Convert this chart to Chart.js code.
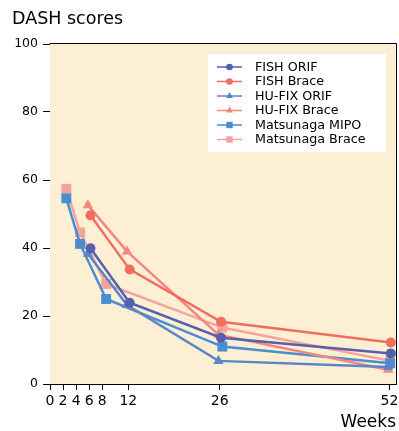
<!DOCTYPE html>
<html>
<head>
<meta charset="utf-8">
<script src="https://cdn.jsdelivr.net/npm/chart.js@4/dist/chart.umd.min.js"></script>
<style>
  html, body { margin: 0; padding: 0; background: #ffffff; overflow: hidden; }
  canvas { display: block; }
</style>
</head>
<body>
<canvas id="dashChart" width="399" height="431"></canvas>
<script>
    // weeks (slightly dodged per study, as in the original figure)
    var fishWeeks = [6.2, 12.2, 26.2, 52.2];
    var hufixWeeks = [5.8, 11.8, 25.8, 51.8];
    var matsunagaWeeks = [2.5, 4.6, 8.6, 26.4, 52.1];

    // DASH scores
    var fishOrif = [39.9, 23.9, 13.6, 9.0];
    var fishBrace = [49.6, 33.7, 18.3, 12.2];
    var hufixOrif = [38.3, 23.2, 6.8, 5.0];
    var hufixBrace = [52.6, 39.0, 14.5, 4.2];
    var matsunagaMipo = [54.6, 41.2, 25.0, 11.0, 6.1];
    var matsunagaBrace = [57.4, 44.6, 29.4, 16.6, 6.8];

    var xTicks = [0, 2, 4, 6, 8, 12, 26, 52];
    var yTicks = [0, 20, 40, 60, 80, 100];

    function pts(xs, ys) {
        return xs.map(function (x, i) { return {x: x, y: ys[i]}; });
    }

    function series(label, xs, ys, color, style, radius) {
        return {
            label: label,
            data: pts(xs, ys),
            showLine: true,
            borderColor: color,
            backgroundColor: color,
            borderWidth: 2.5,
            pointStyle: style,
            pointRadius: radius,
            pointHoverRadius: radius,
            pointBorderWidth: 0,
            pointBackgroundColor: color,
            clip: false
        };
    }

    var dashData = {
        datasets: [
            series("FISH ORIF", fishWeeks, fishOrif, "#5461b0", "circle", 5),
            series("FISH Brace", fishWeeks, fishBrace, "#f16d5d", "circle", 5),
            series("HU-FIX ORIF", hufixWeeks, hufixOrif, "#5a86c7", "triangle", 6),
            series("HU-FIX Brace", hufixWeeks, hufixBrace, "#f5877b", "triangle", 6),
            series("Matsunaga MIPO", matsunagaWeeks, matsunagaMipo, "#4a8dd1", "rect", 7),
            series("Matsunaga Brace", matsunagaWeeks, matsunagaBrace, "#f7a29a", "rect", 7)
        ]
    };

    function noPadding() {
        return {left: 0, top: 0, right: 0, bottom: 0};
    }

    /**
     * beige plot area, box frame, title and inset legend
     */
    var framePlugin = {
        id: 'frame',
        beforeDatasetsDraw: function (chart) {
            var a = chart.chartArea, ctx = chart.ctx;
            ctx.save();
            ctx.fillStyle = '#fdefd4';
            ctx.fillRect(a.left, a.top, a.right - a.left, a.bottom - a.top);
            ctx.restore();
        },
        beforeDraw: function (chart) {
            var ctx = chart.ctx;
            ctx.save();
            ctx.fillStyle = '#000';
            ctx.font = '17.5px "DejaVu Sans"';
            ctx.textBaseline = 'middle';
            ctx.fillText('DASH scores', 12, 19);
            ctx.restore();
        },
        afterDraw: function (chart) {
            var a = chart.chartArea, ctx = chart.ctx;
            ctx.save();
            ctx.strokeStyle = '#000';
            ctx.lineWidth = 1;
            ctx.beginPath();
            ctx.moveTo(Math.round(a.left) - 0.5, Math.round(a.top) - 0.5);
            ctx.lineTo(Math.round(a.right) + 0.5, Math.round(a.top) - 0.5);
            ctx.lineTo(Math.round(a.right) + 0.5, Math.round(a.bottom) + 0.5);
            ctx.stroke();

            // legend
            var bx = a.right - 188, by = a.top + 10;
            ctx.fillStyle = '#ffffff';
            ctx.fillRect(bx, by, 178, 98);
            ctx.font = '12.7px "DejaVu Sans"';
            ctx.textBaseline = 'middle';
            chart.data.datasets.forEach(function (ds, i) {
                var y = by + 13 + i * 14.5;
                ctx.strokeStyle = ds.borderColor;
                ctx.lineWidth = 1.5;
                ctx.beginPath();
                ctx.moveTo(bx + 9, y);
                ctx.lineTo(bx + 34, y);
                ctx.stroke();
                ctx.fillStyle = ds.borderColor;
                var r = ds.pointStyle === 'rect' ? 4.5 : (ds.pointStyle === 'triangle' ? 4 : 3.3);
                Chart.helpers.drawPoint(ctx, {pointStyle: ds.pointStyle, radius: r, rotation: 0, borderWidth: 0}, bx + 21.5, y);
                ctx.fillStyle = '#000';
                ctx.fillText(ds.label, bx + 47, y + 0.5);
            });
            ctx.restore();
        }
    };

    var dashOptions = {
        responsive: false,
        animation: false,
        layout: {
            autoPadding: false,
            padding: {top: 44, right: 3, left: 0, bottom: 0}
        },
        plugins: {
            legend: {display: false},
            tooltip: {enabled: false}
        },
        scales: {
            x: {
                type: 'linear',
                min: 0,
                max: 53,
                afterFit: function (s) {
                    s.height = 47;
                    s.paddingRight = 0;
                    s.paddingLeft = 0;
                    s.getPadding = noPadding;
                },
                afterBuildTicks: function (s) {
                    s.ticks = xTicks.map(function (v) { return {value: v}; });
                },
                ticks: {
                    color: '#000',
                    padding: 3,
                    maxRotation: 0,
                    autoSkip: false,
                    font: {family: 'DejaVu Sans', size: 14}
                },
                grid: {
                    drawOnChartArea: false,
                    drawTicks: true,
                    tickLength: 6,
                    tickColor: '#000'
                },
                border: {display: true, color: '#000', width: 1},
                title: {
                    display: true,
                    text: 'Weeks',
                    align: 'end',
                    color: '#000',
                    padding: {top: 0, bottom: 0},
                    font: {family: 'DejaVu Sans', size: 17, lineHeight: 1}
                }
            },
            y: {
                min: 0,
                max: 100,
                afterFit: function (s) { s.width = 50; },
                afterBuildTicks: function (s) {
                    s.ticks = yTicks.map(function (v) { return {value: v}; });
                },
                ticks: {
                    color: '#000',
                    padding: 5,
                    font: {family: 'DejaVu Sans', size: 12.5}
                },
                grid: {
                    drawOnChartArea: false,
                    drawTicks: true,
                    tickLength: 7,
                    tickColor: '#000'
                },
                border: {display: true, color: '#000', width: 1}
            }
        }
    };

    var ctx = document.getElementById("dashChart").getContext("2d");
    new Chart(ctx, {type: 'scatter', data: dashData, options: dashOptions, plugins: [framePlugin]});
</script>
</body>
</html>
